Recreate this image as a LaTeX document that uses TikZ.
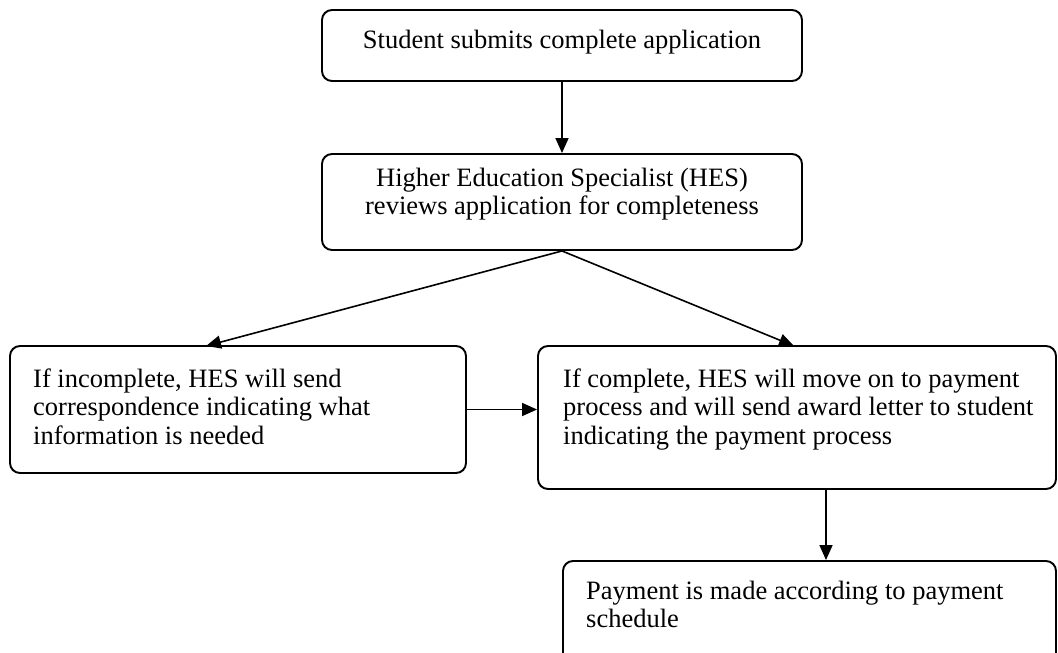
\documentclass[tikz,border=0pt]{standalone}
\usepackage{fontspec}
\setmainfont{Liberation Serif}
\usetikzlibrary{arrows.meta}
\tikzset{
  box/.style={draw, line width=1.9pt, rounded corners=10pt, inner sep=0pt},
  txt/.style={inner sep=0pt, font=\fontsize{26.5}{28.5}\selectfont},
  conn/.style={line width=1.6pt, -{Triangle[length=15pt,width=13pt]}}
}
\newcommand{\fl}{\rule{0pt}{20pt}}
\begin{document}
\begin{tikzpicture}[x=1pt,y=-1pt]
\useasboundingbox (0,0) rectangle (1058,653);
\clip (0,0) rectangle (1058,653);
% boxes
\node[box, minimum width=480pt, minimum height=71pt] (b1) at (562,45.5) {};
\node[box, minimum width=480pt, minimum height=96pt] (b2) at (562,202) {};
\node[box, minimum width=456pt, minimum height=127pt] (b3) at (238,409.5) {};
\node[box, minimum width=518pt, minimum height=143pt] (b4) at (797,417.5) {};
\node[box, minimum width=493pt, minimum height=130pt] (b5) at (809.5,626) {};
% texts
\node[txt, anchor=north, align=center] (t1) at (562,28) {\fl Student submits complete application};
\node[txt, anchor=north, align=center] (t2) at (562,166) {\fl Higher Education Specialist (HES)\\ reviews application for completeness};
\node[txt, anchor=north west, align=left] (t3) at (33,367) {\fl If incomplete, HES will send\\ correspondence indicating what\\ information is needed};
\node[txt, anchor=north west, align=left] (t4) at (563,367) {\fl If complete, HES will move on to payment\\ process and will send award letter to student\\ indicating the payment process};
\node[txt, anchor=north west, align=left] (t5) at (586,579) {\fl Payment is made according to payment\\ schedule};
% connectors
\coordinate (lt) at (206,346);
\coordinate (rt) at (794,346);
\draw[conn] (b1.south) -- (b2.north);
\draw[conn] (b2.south) -- (lt);
\draw[conn] (b2.south) -- (rt);
\draw[conn] (b3.east) -- (b3.east -| b4.west);
\draw[conn] (b4.south -| 826,0) -- (b5.north -| 826,0);
\end{tikzpicture}
\end{document}
